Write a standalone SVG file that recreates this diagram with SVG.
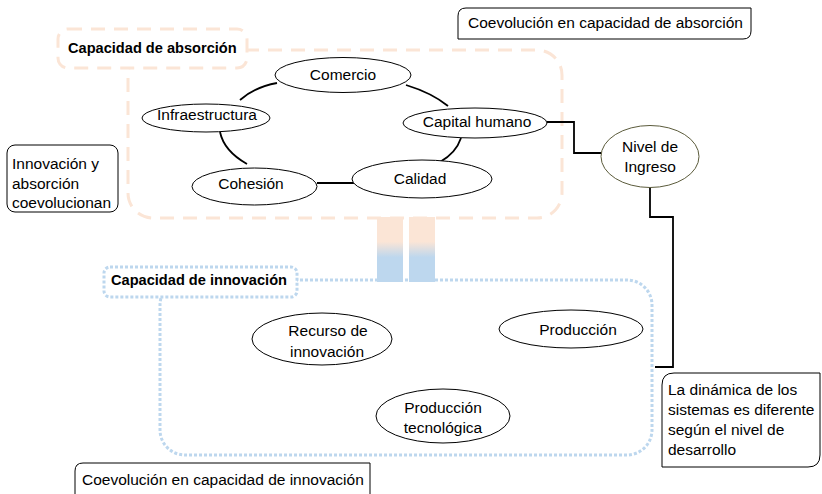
<svg xmlns="http://www.w3.org/2000/svg" width="822" height="494" viewBox="0 0 822 494">
<defs>
<linearGradient id="barGrad" x1="0" y1="0" x2="0" y2="1">
<stop offset="0" stop-color="#FBE5D6"/>
<stop offset="0.38" stop-color="#FBE5D6"/>
<stop offset="0.62" stop-color="#BDD7EE"/>
<stop offset="1" stop-color="#BDD7EE"/>
</linearGradient>
</defs>
<style>
text{font-family:"Liberation Sans",Arial,sans-serif;font-size:15.5px;fill:#000}
.b{font-weight:bold;font-size:14.6px}
.c{text-anchor:middle}
.node{fill:#fff;stroke:#000;stroke-width:1}
.box{fill:#fff;stroke:#000;stroke-width:1}
.abs{fill:none;stroke:#FBE5D6;stroke-width:3;stroke-dasharray:14 9}
.absl{fill:#fff;stroke:#FBE5D6;stroke-width:3;stroke-dasharray:14 9}
.inn{fill:none;stroke:#BDD7EE;stroke-width:3;stroke-dasharray:3 2}
.innl{fill:#fff;stroke:#BDD7EE;stroke-width:3;stroke-dasharray:3 2}
.ln{fill:none;stroke:#000;stroke-width:1.8}
</style>

<g id="arrows">
<rect x="377" y="217" width="26" height="65" fill="url(#barGrad)"/>
<rect x="409" y="217" width="26" height="65" fill="url(#barGrad)"/>
</g>

<g id="absorcion">
<rect class="abs" x="128" y="50" width="434" height="168" rx="25"/>
<rect class="absl" x="58" y="29" width="189" height="39" rx="10"/>
<text class="b" x="68" y="53">Capacidad de absorción</text>
</g>

<g id="innovacion">
<rect class="inn" x="160" y="280" width="492" height="175" rx="25"/>
<rect class="innl" x="104" y="267" width="193" height="30" rx="6"/>
<text class="b" x="111" y="285">Capacidad de innovación</text>
</g>

<g id="connectors">
<path class="ln" d="M240,100 Q255,87 277,83"/>
<path class="ln" d="M406,85 Q432,93 448,106"/>
<path class="ln" d="M461,138 Q456,153 440,162"/>
<path class="ln" d="M317,183 L354,183"/>
<path class="ln" d="M247,164 Q224,151 220,132"/>
<path class="ln" d="M547,122 L574,122 L574,153 L601,153"/>
<path class="ln" d="M650,187 L650,217 L673,217 L673,367 L655,367"/>
</g>

<g id="comercio"><ellipse class="node" cx="343" cy="75" rx="68" ry="17.5"/><text class="c" x="343" y="80">Comercio</text></g>
<g id="infraestructura"><ellipse class="node" cx="206" cy="118" rx="64" ry="14"/><text class="c" x="207" y="120">Infraestructura</text></g>
<g id="capital"><ellipse class="node" cx="475" cy="123" rx="72" ry="15"/><text class="c" x="477" y="127">Capital humano</text></g>
<g id="calidad"><ellipse class="node" cx="422" cy="179" rx="70" ry="19"/><text class="c" x="420" y="184">Calidad</text></g>
<g id="cohesion"><ellipse class="node" cx="254.5" cy="186.5" rx="62.5" ry="18.5"/><text class="c" x="251" y="189">Cohesión</text></g>

<g id="nivel"><ellipse cx="650" cy="156.5" rx="49" ry="31" fill="#fff" stroke="#5B5B3B" stroke-width="1"/><text class="c" x="650" y="152">Nivel de</text><text class="c" x="650" y="172">Ingreso</text></g>

<g id="recurso"><ellipse class="node" cx="322" cy="339" rx="70" ry="26"/><text class="c" x="328" y="336">Recurso de</text><text class="c" x="327" y="357">innovación</text></g>
<g id="produccion"><ellipse class="node" cx="571" cy="329" rx="72" ry="19"/><text class="c" x="578" y="335">Producción</text></g>
<g id="prodtec"><ellipse class="node" cx="443" cy="416" rx="67" ry="27"/><text class="c" x="443" y="413">Producción</text><text class="c" x="443" y="433">tecnológica</text></g>

<g id="nota-absorcion"><path class="box" d="M466,8 H751 V31 Q751,39 743,39 H458 V16 Q458,8 466,8 Z"/><text x="468" y="28">Coevolución en capacidad de absorción</text></g>
<g id="nota-coevolucionan"><rect class="box" x="7" y="145" width="111" height="67" rx="8"/><text x="12" y="169">Innovación y</text><text x="12" y="188.5">absorción</text><text x="12" y="208">coevolucionan</text></g>
<g id="nota-dinamica"><path class="box" d="M674,373 H820 V455 Q820,467 808,467 H662 V385 Q662,373 674,373 Z"/><text x="668" y="395">La dinámica de los</text><text x="668" y="415">sistemas es diferente</text><text x="668" y="435">según el nivel de</text><text x="668" y="455">desarrollo</text></g>
<g id="nota-innovacion"><path class="box" d="M83,463 H370 V500 H75 V471 Q75,463 83,463 Z"/><text x="82" y="485">Coevolución en capacidad de innovación</text></g>
</svg>
